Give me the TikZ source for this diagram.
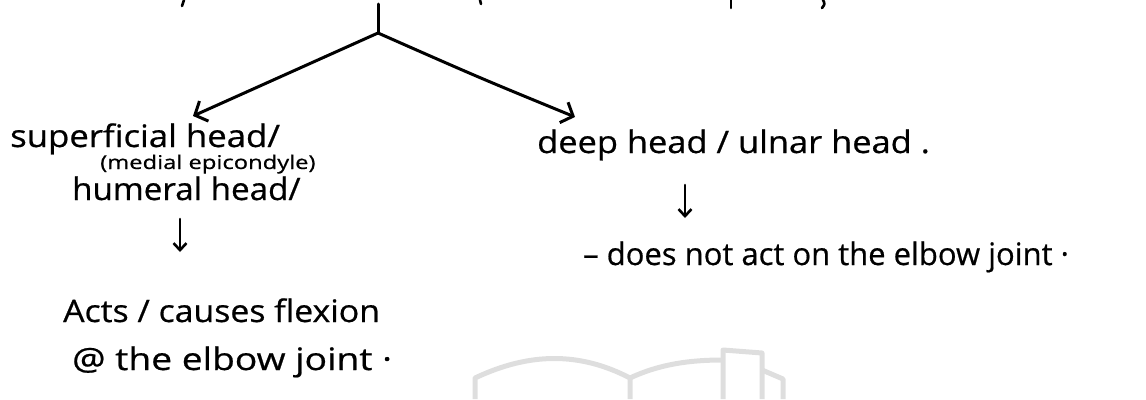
\documentclass[tikz,border=0pt]{standalone}
\usepackage{fontspec}
\setmainfont[FakeBold=0.6]{Open Sans}
\usetikzlibrary{arrows.meta}
\newcommand{\widen}[2]{\scalebox{#1}[1]{#2}}
\begin{document}
\begin{tikzpicture}[x=1pt,y=-1pt,
  note/.style={anchor=base west, inner sep=0pt, font=\fontsize{31}{31}\selectfont},
  subnote/.style={anchor=base west, inner sep=0pt, font=\fontsize{19}{19}\selectfont},
  stem/.style={line width=3pt, line cap=round},
  branch/.style={stem, -{Straight Barb[length=10pt,width=22pt]}},
  downarrow/.style={line width=2.6pt, line cap=round, -{Straight Barb[length=7pt,width=13pt]}},
  scrap/.style={line width=2.6pt, line cap=round},
  watermark/.style={draw=black!13, line width=5pt, line join=round}
]
\useasboundingbox (0,0) rectangle (1146,399);

% faint logo outline along the bottom edge
\draw[watermark] (475,399) -- (475,378) .. controls (530,352) and (580,352) .. (630,378) -- (630,399);
\draw[watermark] (630,378) .. controls (660,364) and (690,360) .. (723,360);
\draw[watermark] (723,399) -- (723,350) -- (762,353) -- (762,399);
\draw[watermark] (762,370) -- (783,379) -- (783,399);

% ends of the line above, cut by the page edge
\draw[scrap] (184,0) -- (182,6);
\draw[scrap] (480,0) -- (481,4);
\draw[scrap] (731,0) -- (731,8);
\draw[scrap] (823,0) .. controls (825,4) .. (822,8);

% the split into the two heads
\coordinate (top) at (378,4);
\coordinate (fork) at (378,33);
\coordinate (tipL) at (193,116);
\coordinate (tipR) at (575,117);
\draw[stem] (top) -- (fork);
\draw[branch] (fork) -- (tipL);
\draw[branch] (fork) .. controls (480,78) .. (tipR);

% left head
\node[note] (sup) at (10,147) {\widen{1.12}{superficial head/}};
\node[subnote] (med) at (100,169) {\widen{1.25}{(medial epicondyle)}};
\node[note] (hum) at (72,200) {\widen{1.07}{humeral head/}};
\coordinate (dl1) at (180,219);
\coordinate (dl2) at (180,252);
\draw[downarrow] (dl1) -- (dl2);
\node[note] (acts) at (63,322) {\widen{1.09}{Acts / causes flexion}};
\node[note] (at) at (72,370) {\widen{1.2}{@ the elbow joint ·}};

% right head
\node[note] (deep) at (537,153) {\widen{1.11}{deep head / ulnar head .}};
\coordinate (dr1) at (685,185);
\coordinate (dr2) at (685,218);
\draw[downarrow] (dr1) -- (dr2);
\node[note] (does) at (583,265) {– does not act on the elbow joint ·};
\end{tikzpicture}
\end{document}
